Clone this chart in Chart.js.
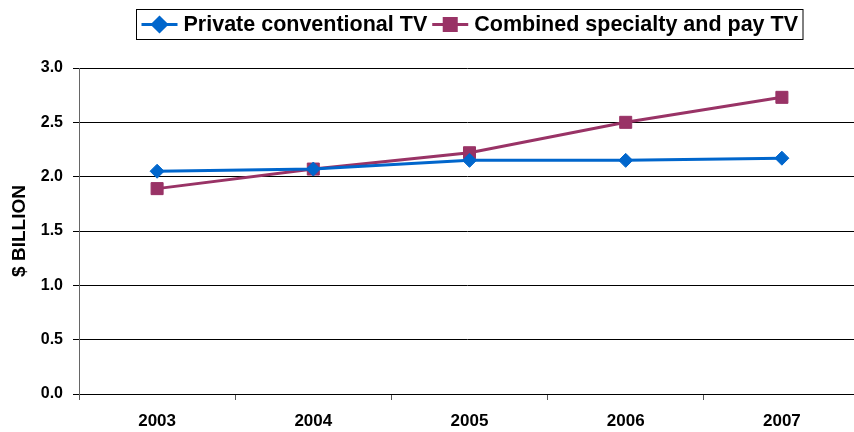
<!DOCTYPE html>
<html>
<head>
<meta charset="utf-8">
<script src="https://cdn.jsdelivr.net/npm/chart.js@4/dist/chart.umd.min.js"></script>
<style>
  html, body { margin: 0; padding: 0; background: #fff; overflow: hidden; }
  #wrap { width: 854px; height: 432px; position: relative; }
</style>
</head>
<body>
<div id="wrap"><canvas id="c" width="854" height="432"></canvas></div>
<script>
// Revenue by year, in billions of dollars
const years = ['2003', '2004', '2005', '2006', '2007'];
const privateConventional = [2.05, 2.07, 2.15, 2.15, 2.17];
const specialtyAndPay = [1.89, 2.07, 2.22, 2.50, 2.73];
const seriesNames = ['Private conventional TV', 'Combined specialty and pay TV'];
const yTicks = [0, 0.5, 1.0, 1.5, 2.0, 2.5, 3.0];

const FONT = '"Liberation Sans", Arial, sans-serif';
const BLUE = '#0066CC';
const PLUM = '#993366';

// Let the plot area run a few pixels past the right edge of the canvas
const bleedRight = {
  id: 'bleedRight',
  afterLayout(chart) {
    const extra = 6;
    const area = chart.chartArea;
    area.right += extra;
    area.width = area.right - area.left;
    const x = chart.scales.x;
    x.right += extra;
    x.width = x.right - x.left;
    x.configure();
  }
};

// Boxed legend across the top: a short line with the series marker, then the name
const boxedLegend = {
  id: 'boxedLegend',
  afterDraw(chart) {
    const ctx = chart.ctx;
    const area = chart.chartArea;
    const fontSize = 21.5;
    const lineLen = 36, gapAfterLine = 6, gapBetween = 5, padX = 5;
    ctx.save();
    ctx.font = 'bold ' + fontSize + 'px ' + FONT;
    const items = chart.data.datasets.map(ds => ({ ds, w: ctx.measureText(ds.label).width }));
    let total = padX * 2;
    items.forEach((it, i) => { total += lineLen + gapAfterLine + it.w + (i ? gapBetween : 0); });
    const boxLeft = Math.round((area.left + area.right) / 2 - total / 2) + 0.5;
    const boxTop = 9.5, boxH = 30;
    const cy = boxTop + boxH / 2;
    ctx.fillStyle = '#fff';
    ctx.fillRect(boxLeft, boxTop, total, boxH);
    ctx.strokeStyle = '#000';
    ctx.lineWidth = 1;
    ctx.strokeRect(boxLeft, boxTop, total, boxH);
    let x = boxLeft + padX;
    items.forEach((it, i) => {
      if (i) x += gapBetween;
      const ds = it.ds;
      ctx.strokeStyle = ds.borderColor;
      ctx.lineWidth = ds.borderWidth;
      ctx.beginPath();
      ctx.moveTo(x, cy);
      ctx.lineTo(x + lineLen, cy);
      ctx.stroke();
      ctx.fillStyle = ds.pointBackgroundColor;
      ctx.strokeStyle = ds.pointBorderColor;
      Chart.helpers.drawPoint(ctx, {
        pointStyle: ds.pointStyle, radius: ds.pointRadius, borderWidth: 1, rotation: 0
      }, x + lineLen / 2, cy);
      x += lineLen + gapAfterLine;
      ctx.fillStyle = '#000';
      ctx.textBaseline = 'middle';
      ctx.textAlign = 'left';
      ctx.fillText(ds.label, x, cy + 1);
      x += it.w;
    });
    ctx.restore();
  }
};

new Chart(document.getElementById('c'), {
  type: 'line',
  data: {
    labels: years,
    datasets: [
      {
        label: seriesNames[0],
        data: privateConventional,
        borderColor: BLUE,
        backgroundColor: BLUE,
        pointBackgroundColor: BLUE,
        pointBorderColor: BLUE,
        borderWidth: 3,
        pointStyle: 'rectRot',
        pointRadius: 7,
        pointBorderWidth: 1,
        tension: 0
      },
      {
        label: seriesNames[1],
        data: specialtyAndPay,
        borderColor: PLUM,
        backgroundColor: PLUM,
        pointBackgroundColor: PLUM,
        pointBorderColor: PLUM,
        borderWidth: 3,
        pointStyle: 'rect',
        pointRadius: 8.5,
        pointBorderWidth: 1,
        tension: 0
      }
    ]
  },
  options: {
    responsive: false,
    animation: false,
    devicePixelRatio: 1,
    layout: { autoPadding: false, padding: { top: 68, right: 0, left: 0, bottom: 0 } },
    plugins: {
      legend: { display: false },
      tooltip: { enabled: false }
    },
    scales: {
      x: {
        offset: true,
        afterFit(scale) { scale.height = 38; },
        grid: {
          offset: true,
          drawOnChartArea: false,
          drawTicks: true,
          tickLength: 6,
          color: '#555'
        },
        border: { color: '#000', width: 1 },
        ticks: {
          color: '#000',
          padding: 11,
          font: { family: FONT, size: 17, weight: 'bold' }
        }
      },
      y: {
        min: 0,
        max: 3,
        afterFit(scale) { scale.width = 79; },
        afterBuildTicks(scale) { scale.ticks = yTicks.map(v => ({ value: v })); },
        grid: {
          color: '#000',
          lineWidth: 1,
          drawTicks: true,
          tickLength: 6
        },
        border: { color: '#666', width: 1 },
        ticks: {
          color: '#000',
          padding: 10,
          font: { family: FONT, size: 16, weight: 'bold' },
          callback: v => Number(v).toFixed(1)
        },
        title: {
          display: true,
          text: '$ BILLION',
          color: '#000',
          padding: { top: 8, bottom: 0 },
          font: { family: FONT, size: 19, weight: 'bold' }
        }
      }
    }
  },
  plugins: [bleedRight, boxedLegend]
});
</script>
</body>
</html>
